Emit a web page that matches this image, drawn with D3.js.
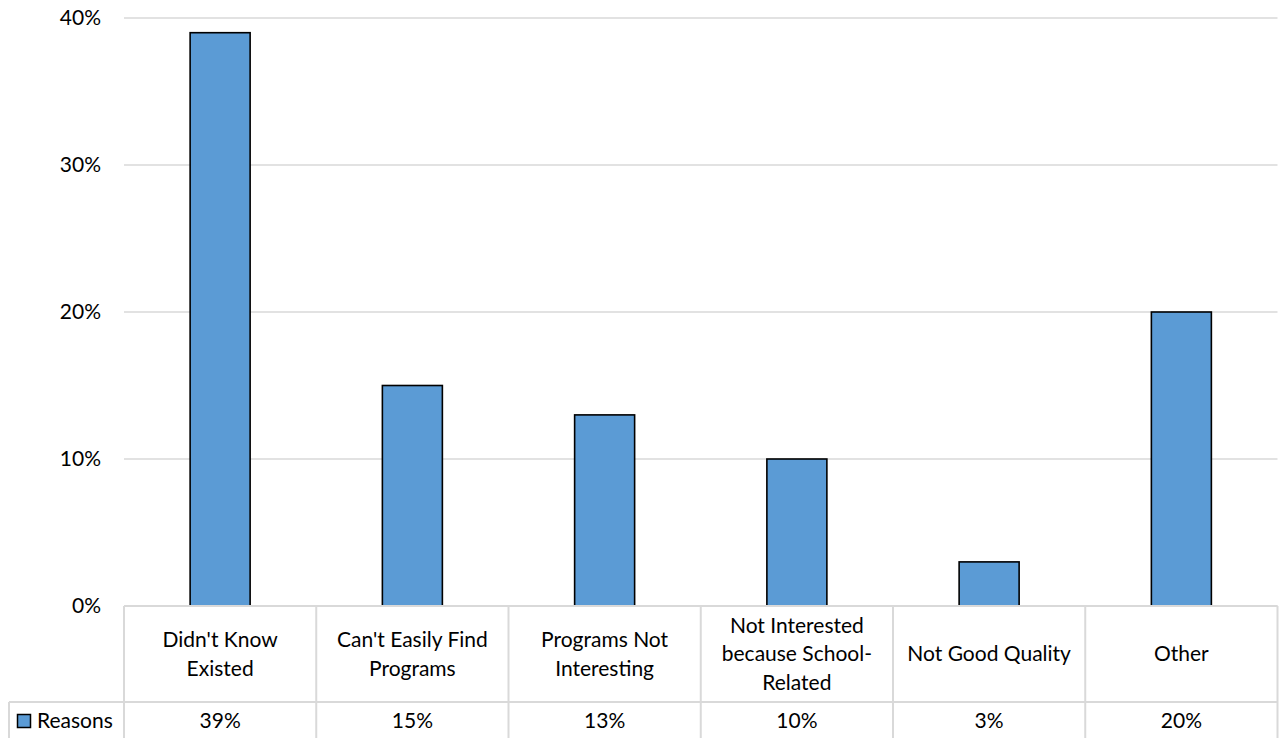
<!DOCTYPE html>
<html><head><meta charset="utf-8">
<script src="https://cdn.jsdelivr.net/npm/d3@7"></script>
<style>body{margin:0;background:#fff}svg{display:block}</style>
</head><body>
<script>
const categories = [["Didn't Know","Existed"],["Can't Easily Find","Programs"],["Programs Not","Interesting"],["Not Interested","because School-","Related"],["Not Good Quality"],["Other"]];
const values = [39, 15, 13, 10, 3, 20];
const yTicks = [0, 10, 20, 30, 40];
const seriesName = "Reasons";

(function(){
const W = 1279, H = 738;
const pL = 124, pR = 1277.5, pT = 18, pB = 606;
const row1 = 702, row2 = 740;
const font = "Lato, 'Open Sans', sans-serif";
const fs = 21;
const gridC = "#d9d9d9";

const svg = d3.select("body").append("svg").attr("width", W).attr("height", H);
const x = d3.scaleBand().domain(d3.range(categories.length)).range([pL, pR]);
const y = d3.scaleLinear().domain([0, 40]).range([pB, pT]);

svg.append("g").selectAll("line").data(yTicks).join("line")
  .attr("x1", pL).attr("x2", pR)
  .attr("y1", d => y(d)).attr("y2", d => y(d))
  .attr("stroke", gridC).attr("stroke-width", 1.5);

svg.append("g").selectAll("text").data(yTicks).join("text")
  .attr("x", 101).attr("y", d => y(d)).attr("dy", "0.35em")
  .attr("text-anchor", "end").attr("font-family", font).attr("font-size", fs)
  .attr("fill", "#000").text(d => d + "%");

const bw = 60;
svg.append("g").selectAll("rect").data(values).join("rect")
  .attr("x", (d, i) => x(i) + x.bandwidth() / 2 - bw / 2)
  .attr("width", bw)
  .attr("y", d => y(d)).attr("height", d => y(0) - y(d))
  .attr("fill", "#5b9bd5").attr("stroke", "#000").attr("stroke-width", 1.6);

const t = svg.append("g").attr("stroke", gridC).attr("stroke-width", 2).attr("fill", "none");
t.append("line").attr("x1", pL).attr("x2", pR).attr("y1", pB).attr("y2", pB);
t.append("line").attr("x1", 9).attr("x2", pR).attr("y1", row1).attr("y2", row1);
t.append("line").attr("x1", 9).attr("x2", 9).attr("y1", row1).attr("y2", row2);
d3.range(categories.length + 1).forEach(i => {
  const xx = i < categories.length ? x(i) : pR;
  t.append("line").attr("x1", xx).attr("x2", xx).attr("y1", pB).attr("y2", row2);
});

const lh = 28.5;
const catG = svg.append("g").attr("font-family", font).attr("font-size", fs).attr("fill", "#000");
categories.forEach((lines, i) => {
  const cy = (pB + row1) / 2 - (lines.length - 1) * lh / 2;
  const txt = catG.append("text").attr("text-anchor", "middle");
  lines.forEach((l, j) => {
    txt.append("tspan").attr("x", x(i) + x.bandwidth() / 2).attr("y", cy + j * lh).attr("dy", "0.35em").text(l);
  });
});

svg.append("g").selectAll("text").data(values).join("text")
  .attr("x", (d, i) => x(i) + x.bandwidth() / 2).attr("y", 721).attr("dy", "0.35em")
  .attr("text-anchor", "middle").attr("font-family", font).attr("font-size", fs)
  .text(d => d + "%");

svg.append("rect").attr("x", 17.5).attr("y", 714.5).attr("width", 13).attr("height", 13)
  .attr("fill", "#5b9bd5").attr("stroke", "#000").attr("stroke-width", 1.5);
svg.append("text").attr("x", 37).attr("y", 721).attr("dy", "0.35em")
  .attr("font-family", font).attr("font-size", fs).text(seriesName);
})();
</script>
</body></html>
